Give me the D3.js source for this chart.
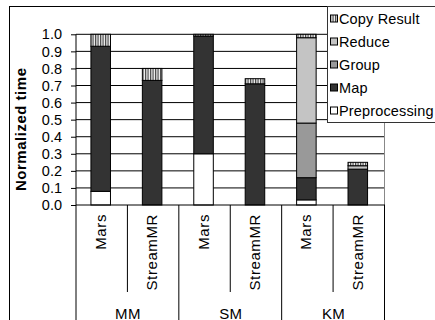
<!DOCTYPE html>
<html>
<head>
<meta charset="utf-8">
<script src="https://cdn.jsdelivr.net/npm/d3@7/dist/d3.min.js"></script>
<style>
  html, body { margin: 0; padding: 0; background: #fff; }
  svg { display: block; font-family: "Liberation Sans", Arial, sans-serif; }
</style>
</head>
<body>
<svg id="chart" width="435" height="320"></svg>
<script>
// Workloads and implementations along the category axis
const workloads = ["MM", "SM", "KM"];
const systems = ["Mars", "StreamMR"];

// Normalized time per phase, one entry per bar (MM Mars, MM StreamMR, SM Mars, SM StreamMR, KM Mars, KM StreamMR)
const preprocessing = [0.08, 0.00, 0.30, 0.00, 0.03, 0.00];
const mapPhase      = [0.85, 0.73, 0.69, 0.71, 0.13, 0.21];
const groupPhase    = [0.00, 0.00, 0.00, 0.00, 0.32, 0.00];
const reducePhase   = [0.00, 0.00, 0.00, 0.00, 0.50, 0.02];
const copyResult    = [0.07, 0.07, 0.01, 0.03, 0.02, 0.02];

const yTicks = [0, 0.1, 0.2, 0.3, 0.4, 0.5, 0.6, 0.7, 0.8, 0.9, 1.0];

const phases = [
  { key: "Preprocessing", values: preprocessing, fill: "#ffffff" },
  { key: "Map",           values: mapPhase,      fill: "#333333" },
  { key: "Group",         values: groupPhase,    fill: "#999999" },
  { key: "Reduce",        values: reducePhase,   fill: "#c4c4c4" },
  { key: "Copy Result",   values: copyResult,    fill: "url(#stripes)" }
];

const bars = [];
workloads.forEach(w => systems.forEach(s => bars.push({ workload: w, system: s, id: w + "|" + s })));
const rows = bars.map((b, i) => {
  const r = { id: b.id };
  phases.forEach(p => { r[p.key] = p.values[i]; });
  return r;
});

const svg = d3.select("#chart");

// striped fill for the copy-result phase
const defs = svg.append("defs");
const pat = defs.append("pattern")
  .attr("id", "stripes").attr("patternUnits", "userSpaceOnUse")
  .attr("width", 2.5).attr("height", 4);
pat.append("rect").attr("width", 2.5).attr("height", 4).attr("fill", "#f4f4f4");
pat.append("rect").attr("width", 1.2).attr("height", 4).attr("fill", "#444");

// outer frame
svg.append("rect")
  .attr("x", 9.5).attr("y", 6.5).attr("width", 500).attr("height", 400)
  .attr("fill", "none").attr("stroke", "#000");

const plotLeft = 76, plotRight = 384.5, plotTop = 34.3, plotBottom = 205;

const x = d3.scaleBand().domain(bars.map(b => b.id)).range([plotLeft, plotRight]).padding(0);
const xGroup = d3.scaleBand().domain(workloads).range([plotLeft, plotRight]).padding(0);
const y = d3.scaleLinear().domain([0, 1]).range([plotBottom, plotTop]);

// horizontal gridlines
svg.append("g").selectAll("line").data(yTicks.slice(1)).join("line")
  .attr("x1", plotLeft).attr("x2", plotRight)
  .attr("y1", d => y(d)).attr("y2", d => y(d))
  .attr("stroke", "#000").attr("stroke-width", 1);

// right border of plot
svg.append("line").attr("x1", plotRight).attr("x2", plotRight).attr("y1", plotTop).attr("y2", plotBottom)
  .attr("stroke", "#888");

// y axis
const yAxis = d3.axisLeft(y).tickValues(yTicks).tickFormat(d3.format(".1f")).tickSizeOuter(0).tickSize(5).tickPadding(9);
const gy = svg.append("g").attr("transform", `translate(${plotLeft},0)`).call(yAxis);
gy.select(".domain").remove();
gy.selectAll(".tick line").attr("stroke", "#000");
gy.selectAll(".tick text").attr("font-size", 14.5).attr("fill", "#000")
  .attr("font-family", "Liberation Sans, Arial, sans-serif");
svg.append("line").attr("x1", plotLeft).attr("x2", plotLeft).attr("y1", plotTop).attr("y2", 320)
  .attr("stroke", "#000");

// stacked bars
const stack = d3.stack().keys(phases.map(p => p.key));
const series = stack(rows);
const barW = x.bandwidth() * 0.38;
const gBars = svg.append("g");
series.forEach((s, si) => {
  gBars.append("g").selectAll("rect").data(s.filter(d => d[1] - d[0] > 0)).join("rect")
    .attr("x", d => x(d.data.id) + (x.bandwidth() - barW) / 2 - 1)
    .attr("width", barW)
    .attr("y", d => y(d[1]))
    .attr("height", d => y(d[0]) - y(d[1]))
    .attr("fill", phases[si].fill)
    .attr("stroke", "#000").attr("stroke-width", 1);
});

// baseline
svg.append("line").attr("x1", plotLeft).attr("x2", plotRight + 0.5).attr("y1", plotBottom).attr("y2", plotBottom)
  .attr("stroke", "#000");

// category axis: inner separators between systems, outer separators between workloads
svg.append("g").selectAll("line").data(workloads).join("line")
  .attr("x1", d => xGroup(d) + xGroup.bandwidth() / 2).attr("x2", d => xGroup(d) + xGroup.bandwidth() / 2)
  .attr("y1", plotBottom).attr("y2", 292)
  .attr("stroke", "#000");
svg.append("g").selectAll("line").data(workloads.slice(1).map(w => xGroup(w)).concat([plotRight]))
  .join("line")
  .attr("x1", d => d).attr("x2", d => d)
  .attr("y1", plotBottom).attr("y2", 320)
  .attr("stroke", "#000");

// system labels (rotated)
svg.append("g").selectAll("text").data(bars).join("text")
  .attr("transform", d => `translate(${x(d.id) + x.bandwidth() / 2 - 1.5},214) rotate(-90)`)
  .attr("text-anchor", "end").attr("dominant-baseline", "central")
  .attr("font-size", 15).attr("letter-spacing", "0.6px")
  .text(d => d.system);

// workload labels
svg.append("g").selectAll("text").data(workloads).join("text")
  .attr("x", d => xGroup(d) + xGroup.bandwidth() / 2 + 0.5)
  .attr("y", 313).attr("text-anchor", "middle").attr("dominant-baseline", "central")
  .attr("font-size", 15).attr("letter-spacing", "0.3px")
  .text(d => d);

// y axis title
svg.append("text")
  .attr("transform", `translate(20.5,129.5) rotate(-90)`)
  .attr("text-anchor", "middle").attr("dominant-baseline", "central")
  .attr("font-size", 15).attr("font-weight", "bold")
  .attr("textLength", 123).attr("lengthAdjust", "spacing")
  .text("Normalized time");

// legend
const legendItems = phases.slice().reverse();
const lg = svg.append("g");
lg.append("rect").attr("x", 327.5).attr("y", 6.5).attr("width", 120).attr("height", 116)
  .attr("fill", "#fff").attr("stroke", "#333");
const li = lg.selectAll("g.item").data(legendItems).join("g")
  .attr("class", "item")
  .attr("transform", (d, i) => `translate(0,${18.5 + i * 23})`);
li.append("rect").attr("x", 330.5).attr("y", -3.5).attr("width", 7).attr("height", 7)
  .attr("fill", d => d.fill).attr("stroke", "#000");
li.append("text").attr("x", 339).attr("y", 0).attr("dominant-baseline", "central")
  .attr("font-size", 14.5).attr("letter-spacing", "0.15px")
  .text(d => d.key);
</script>
</body>
</html>
